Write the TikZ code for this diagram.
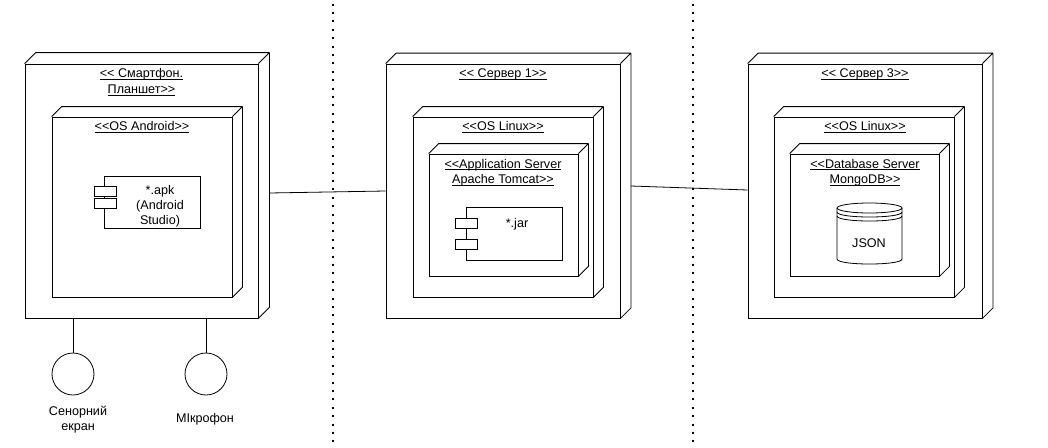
\documentclass[tikz,border=0pt]{standalone}
\usepackage{fontspec}
\setmainfont{Liberation Sans}
\usetikzlibrary{calc}
\newcommand\ulab[1]{\underline{\smash{#1}}}
\newcommand\LL{<\kern0pt<}
\newcommand\GG{>\kern0pt>}
\newcommand\boxdepth[2]{\draw[line width=0.8pt, line join=round] (#1.north west) -- ++(#2,-#2) -- ($(#1.north east)+(#2,-#2)$) -- ($(#1.south east)+(#2,-#2)$) -- (#1.south east) (#1.north east) -- ++(#2,-#2);}
\tikzset{
  face/.style={draw, line width=0.8pt, rectangle, inner sep=0pt},
  tab/.style={draw, line width=0.8pt, rectangle, inner sep=0pt, fill=white, minimum width=22, minimum height=10},
  lbl/.style={font=\fontsize{12.6}{15.5}\selectfont, align=center, inner sep=0pt},
  conn/.style={line width=0.8pt},
  sepline/.style={line width=2pt, dash pattern=on 2pt off 6.4pt, dash phase=-3.5pt},
  dev/.style={draw, circle, line width=0.8pt, minimum size=42, inner sep=0pt}
}
\begin{document}
\begin{tikzpicture}[x=1pt,y=-1pt]
\useasboundingbox (0,0) rectangle (1048,447);
% separators
\draw[sepline] (332.5,0) -- (332.5,447);
\draw[sepline] (693,0) -- (693,447);

% ---- device 1
\node[face, minimum width=233, minimum height=254] (n1) at (141.5,191) {};
\boxdepth{n1}{11}
\node[lbl, font=\fontsize{12.6}{16}\selectfont] (l1) at (141.5,86.5) {\ulab{\LL{} Смартфон.}\\\ulab{Планшет\GG}};
\node[face, minimum width=180, minimum height=180] (os1) at (142,207) {};
\boxdepth{os1}{10}
\node[lbl] (l2) at (142,131.5) {\ulab{\LL OS Android\GG}};
\node[face, minimum width=96, minimum height=52] (k1) at (152,202) {};
\node[tab] (k1a) at (105,191.5) {};
\node[tab] (k1b) at (105,203) {};
\node[lbl, font=\fontsize{12.6}{15}\selectfont] (k1t) at (160,206) {*.apk\\(Android\\Studio)};

% ---- server 1
\node[face, minimum width=234, minimum height=254] (n2) at (503,191) {};
\boxdepth{n2}{10.5}
\node[lbl] (l3) at (503,78.5) {\ulab{\LL{} Сервер 1\GG}};
\node[face, minimum width=180, minimum height=180] (os2) at (503,207) {};
\boxdepth{os2}{10}
\node[lbl] (l4) at (503,131.5) {\ulab{\LL OS Linux\GG}};
\node[face, minimum width=149, minimum height=122] (app) at (503.5,215) {};
\boxdepth{app}{10}
\node[lbl] (l5) at (503,177) {\ulab{\LL Application Server}\\\ulab{Apache Tomcat\GG}};
\node[face, minimum width=96, minimum height=53] (k2) at (514,233.5) {};
\node[tab] (k2a) at (466.5,223) {};
\node[tab] (k2b) at (466.5,244) {};
\node[lbl] (k2t) at (517,224) {*.jar};

% ---- server 3
\node[face, minimum width=234, minimum height=254] (n3) at (865,191) {};
\boxdepth{n3}{10.5}
\node[lbl] (l6) at (865,78.5) {\ulab{\LL{} Сервер 3\GG}};
\node[face, minimum width=180, minimum height=180] (os3) at (864,207) {};
\boxdepth{os3}{10}
\node[lbl] (l7) at (865,131.5) {\ulab{\LL OS Linux\GG}};
\node[face, minimum width=149, minimum height=122] (db) at (864.5,215) {};
\boxdepth{db}{10}
\node[lbl] (l8) at (865,177) {\ulab{\LL Database Server}\\\ulab{MongoDB\GG}};
% datastore
\draw[line width=0.8pt] (837,208) -- (837,259) .. controls (837,265.67) and (902,265.67) .. (902,259) -- (902,208);
\draw[line width=0.8pt] (869.5,208) ellipse [x radius=32.5, y radius=5];
\draw[line width=0.8pt] (837,212) .. controls (837,218.67) and (902,218.67) .. (902,212);
\draw[line width=0.8pt] (837,216) .. controls (837,222.67) and (902,222.67) .. (902,216);
\node[lbl] (json) at (869,243) {JSON};

% connectors
\coordinate (c1) at ($(n1.east)+(11,2)$);
\draw[conn] (c1) -- (n2.west);
\coordinate (c2) at ($(n2.east)+(10.5,-5)$);
\coordinate (c3) at ($(n3.west)+(0,-1)$);
\draw[conn] (c2) -- (c3);

% devices
\node[dev] (s1) at (73,374) {};
\node[dev] (s2) at (206,374) {};
\draw[conn] (s1.north) -- (s1.north |- n1.south);
\draw[conn] (s2.north) -- (s2.north |- n1.south);
\node[lbl, font=\fontsize{12.6}{15}\selectfont] (t1) at (78,419.5) {Сенорний\\екран};
\node[lbl] (t2) at (205,419) {МІкрофон};
\end{tikzpicture}
\end{document}
